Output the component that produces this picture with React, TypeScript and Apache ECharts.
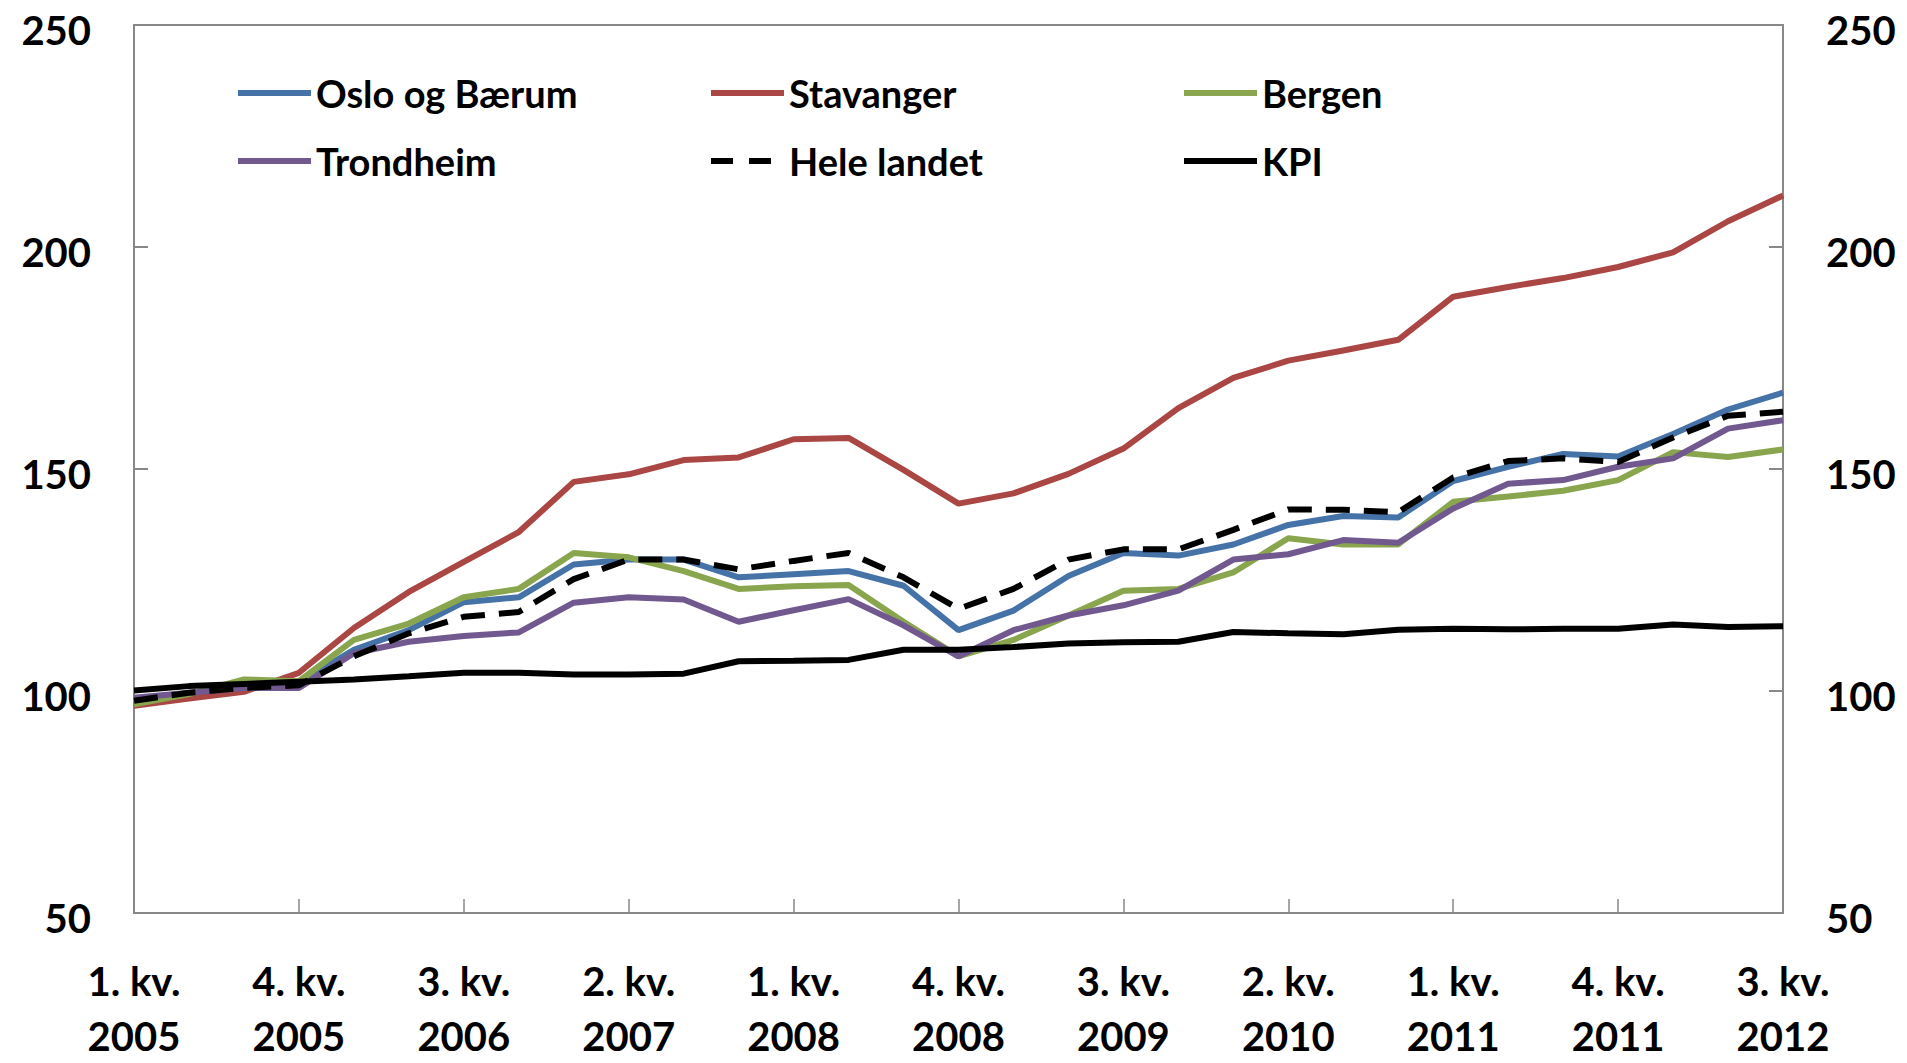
import React, { useEffect, useRef } from "react";
import * as echarts from "echarts";

const quarters: string[] = [
  "1. kv.\n2005", "2. kv.\n2005", "3. kv.\n2005", "4. kv.\n2005",
  "1. kv.\n2006", "2. kv.\n2006", "3. kv.\n2006", "4. kv.\n2006",
  "1. kv.\n2007", "2. kv.\n2007", "3. kv.\n2007", "4. kv.\n2007",
  "1. kv.\n2008", "2. kv.\n2008", "3. kv.\n2008", "4. kv.\n2008",
  "1. kv.\n2009", "2. kv.\n2009", "3. kv.\n2009", "4. kv.\n2009",
  "1. kv.\n2010", "2. kv.\n2010", "3. kv.\n2010", "4. kv.\n2010",
  "1. kv.\n2011", "2. kv.\n2011", "3. kv.\n2011", "4. kv.\n2011",
  "1. kv.\n2012", "2. kv.\n2012", "3. kv.\n2012",
];

const osloBaerum: number[] = [
  98.1, 98.9, 100.7, 101.9, 109.3, 113.7, 120, 121.1, 128.5, 129.6, 129.6, 125.6,
  126.3, 127.0, 123.7, 113.7, 118.1, 125.9, 131.1, 130.5, 133, 137.4, 139.4, 139.1,
  147.3, 150.5, 153.4, 152.8, 157.9, 163.4, 167.2,
];
const stavanger: number[] = [
  96.7, 98.3, 99.8, 104.1, 114.2, 122.3, 129.1, 135.8, 147.1, 148.8, 152, 152.6,
  156.7, 157, 149.8, 142.2, 144.5, 148.9, 154.6, 163.7, 170.5, 174.4, 176.7, 179.1,
  188.8, 191, 193, 195.5, 198.8, 205.8, 211.6,
];
const bergen: number[] = [
  97, 99.3, 102.6, 102.2, 111.5, 115.2, 121.1, 123, 131.1, 130.1, 127, 123,
  123.6, 123.9, 115.6, 107.8, 111.5, 117, 122.6, 123, 126.7, 134.4, 133, 133,
  142.6, 143.8, 145.1, 147.5, 153.8, 152.7, 154.4,
];
const trondheim: number[] = [
  98.5, 99.6, 100.7, 100.7, 108.5, 111.1, 112.4, 113.2, 119.9, 121.1, 120.6, 115.6,
  118.2, 120.7, 114.8, 107.8, 113.7, 117, 119.3, 122.6, 129.6, 130.8, 134, 133.4,
  141.1, 146.7, 147.5, 150.5, 152.4, 159.1, 161,
];
const heleLandet: number[] = [
  97.8, 99.6, 100.7, 101.3, 107.8, 113, 116.7, 117.8, 125.2, 129.6, 129.6, 127.4,
  129.3, 131.1, 125.6, 118.5, 123, 129.6, 131.9, 131.9, 136.3, 140.9, 140.8, 140.3,
  148.1, 151.8, 152.4, 151.6, 157.1, 162, 162.9,
];
const kpi: number[] = [
  100.1, 101.1, 101.6, 102.1, 102.6, 103.3, 104.1, 104.1, 103.7, 103.7, 103.9, 106.7,
  106.8, 107, 109.3, 109.3, 109.9, 110.7, 111, 111.1, 113.3, 113, 112.8, 113.8,
  114, 113.9, 114, 114, 115, 114.4, 114.6,
];

const seriesNames: string[] = ["Oslo og Bærum", "Stavanger", "Bergen", "Trondheim", "Hele landet", "KPI"];
const seriesColors: string[] = ["#4572A7", "#AA4643", "#89A54E", "#71588F", "#000000", "#000000"];
const seriesData: number[][] = [osloBaerum, stavanger, bergen, trondheim, heleLandet, kpi];

const yMin = 50;
const yMax = 250;
const yStep = 50;

const FONT = "Lato, 'Liberation Sans', sans-serif";
const AXIS_GREY = "#888888";

const SOLID_ICON = "path://M0,0H73V6H0Z";
const DASH_ICON = "path://M0,0H22V6H0Z M38,0H60V6H38Z M72.9,2.9H73V3.1H72.9Z";

export default function App() {
  const ref = useRef<HTMLDivElement>(null);

  useEffect(() => {
    if (!ref.current) return;
    const chart = echarts.init(ref.current, undefined, { renderer: "svg" });

    const labelText = { fontSize: 40, fontWeight: "bold" as const, fontFamily: FONT, color: "#000" };

    const yAxisCommon = {
      type: "value" as const,
      min: yMin,
      max: yMax,
      interval: yStep,
      splitLine: { show: false },
      axisLine: { show: true, lineStyle: { color: AXIS_GREY, width: 2 } },
      axisTick: { show: true, inside: true, length: 14, lineStyle: { color: AXIS_GREY, width: 2 } },
      axisLabel: {
        ...labelText,
        lineHeight: 40,
        margin: 43,
        formatter: (v: number) => `{v|${v}}`,
        rich: { v: { ...labelText, lineHeight: 40, padding: [10, 0, 0, 0] } },
      },
    };

    chart.setOption({
      animation: false,
      backgroundColor: "#ffffff",
      grid: {
        left: 134,
        right: 124,
        top: 22,
        bottom: 142,
        show: true,
        borderColor: AXIS_GREY,
        borderWidth: 2,
        backgroundColor: "transparent",
      },
      legend: {
        data: seriesNames.map((name) => ({
          name,
          icon: name === "Hele landet" ? DASH_ICON : SOLID_ICON,
        })),
        left: 233,
        top: 54,
        width: 1440,
        itemWidth: 73,
        itemHeight: 6,
        itemGap: 0,
        textStyle: {
          fontSize: 38,
          fontWeight: "bold",
          fontFamily: FONT,
          color: "#000",
          width: 395,
          lineHeight: 68,
        },
      },
      xAxis: {
        type: "category",
        data: quarters,
        boundaryGap: false,
        axisLine: { show: true, lineStyle: { color: AXIS_GREY, width: 2 } },
        axisTick: { show: true, inside: true, length: 14, interval: 2, lineStyle: { color: AXIS_GREY, width: 1.5 } },
        axisLabel: {
          ...labelText,
          interval: 2,
          lineHeight: 55,
          margin: 40,
        },
        splitLine: { show: false },
      },
      yAxis: [
        { ...yAxisCommon, position: "left" },
        { ...yAxisCommon, position: "right" },
      ],
      series: seriesNames.map((name, i) => ({
        name,
        type: "line",
        data: seriesData[i],
        yAxisIndex: 0,
        symbol: "none",
        color: seriesColors[i],
        lineStyle: {
          color: seriesColors[i],
          width: 6,
          type: name === "Hele landet" ? [24, 14] : "solid",
        },
      })),
    });

    return () => chart.dispose();
  }, []);

  return (
    <div
      ref={ref}
      style={{ position: "fixed", left: 0, top: 0, width: 1907, height: 1063, background: "#fff" }}
    />
  );
}
